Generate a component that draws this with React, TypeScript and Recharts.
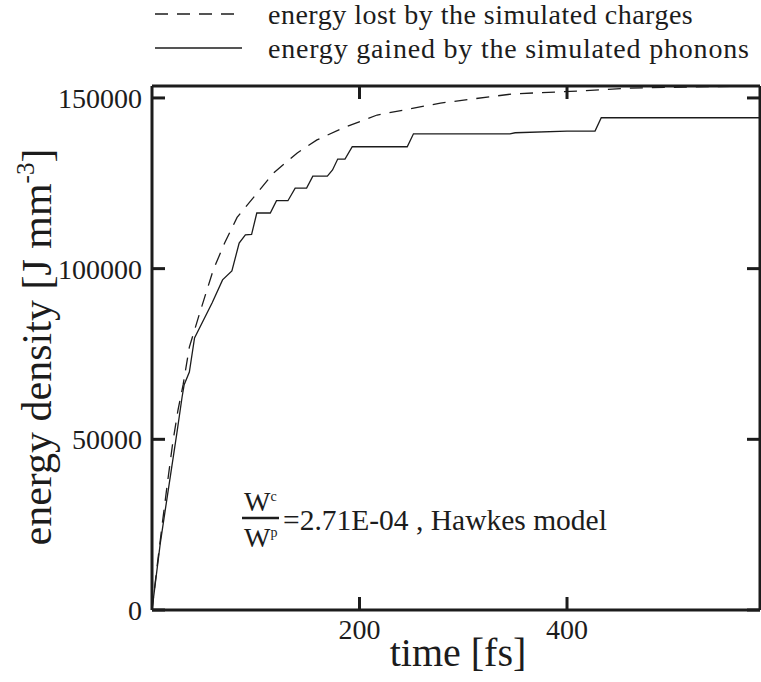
import React from 'react';
import { LineChart, Line, XAxis, YAxis } from 'recharts';

// energy lost by the simulated charges (dashed)
const chargeTime = [0, 5, 10, 15, 20, 25, 30, 36, 46, 59, 70, 82, 101, 117, 140, 159, 184, 217, 278, 348, 410, 461, 515, 586];
const chargeEnergy = [0, 13000, 25500, 37500, 49000, 58500, 66000, 77000, 87000, 99600, 107500, 115000, 122000, 128000, 133900, 137700, 141200, 145000, 148500, 151200, 152000, 152900, 153200, 153500];

// energy gained by the simulated phonons (solid)
const phononTime = [0, 8, 14.5, 24, 29, 31, 36, 41, 58, 68, 77, 84, 90, 96, 101, 114, 120, 131, 138, 149, 155, 169, 174, 179, 186, 193, 246, 252, 345, 350, 400, 427, 433, 586];
const phononEnergy = [0, 19600, 32800, 51900, 62400, 66000, 69700, 79700, 90000, 96700, 99300, 107500, 109900, 110000, 116300, 116300, 119900, 119900, 123600, 123600, 127100, 127100, 128900, 132100, 132100, 135700, 135700, 139500, 139500, 139800, 140300, 140300, 144200, 144200];

const xMinorTicks = [0, 50, 100, 150, 200, 250, 300, 350, 400, 450, 500, 550];
const yMinorTicks = [0, 10000, 20000, 30000, 40000, 50000, 60000, 70000, 80000, 90000, 100000, 110000, 120000, 130000, 140000, 150000];
const xLabels = [200, 400];
const yLabels = [0, 50000, 100000, 150000];

const X_DOMAIN = [0, 586];
const Y_DOMAIN = [0, 153500];

const SERIF = '"Liberation Serif", "Times New Roman", serif';
const INK = '#1c1c1c';

const charges = chargeTime.map((t, i) => ({ t, e: chargeEnergy[i] }));
const phonons = phononTime.map((t, i) => ({ t, e: phononEnergy[i] }));

const BottomLabel = (props: any) => {
  const { x, y, payload } = props;
  return (
    <text x={x} y={y + 29} textAnchor="middle" fontSize={28} fontFamily={SERIF} fill={INK}>
      {payload.value}
    </text>
  );
};

const LeftLabel = (props: any) => {
  const { x, y, payload } = props;
  return (
    <text x={x - 10} y={y + 10} textAnchor="end" fontSize={28} fontFamily={SERIF} fill={INK}>
      {payload.value}
    </text>
  );
};

const NoLabel = () => <g />;

const frame = { stroke: INK, strokeWidth: 3 };
const majorTick = { stroke: INK, strokeWidth: 3 };
const minorTick = { stroke: INK, strokeWidth: 1.2 };

const Overlay = () => (
  <svg width={761} height={682} style={{ position: 'absolute', left: 0, top: 0, pointerEvents: 'none' }}>
    <g fontFamily={SERIF} fill={INK}>
      {/* legend */}
      <line x1={155} x2={242} y1={14} y2={14} stroke={INK} strokeWidth={1.3} strokeDasharray="13 9" />
      <text x={268} y={24} fontSize={28} letterSpacing={0.5}>energy lost by the simulated charges</text>
      <line x1={155} x2={242} y1={48} y2={48} stroke={INK} strokeWidth={1.3} />
      <text x={268} y={58} fontSize={28} letterSpacing={0.8}>energy gained by the simulated phonons</text>

      {/* axis titles */}
      <text transform="translate(51,347) rotate(-90)" textAnchor="middle" fontSize={42}>
        energy density [J mm
        <tspan dy={-17} fontSize={25}>-3</tspan>
        <tspan dy={17}>]</tspan>
      </text>
      <text x={458} y={666} textAnchor="middle" fontSize={40}>time [fs]</text>

      {/* annotation */}
      <text x={244} y={511} fontSize={28}>
        W<tspan dy={-10} fontSize={14}>c</tspan>
      </text>
      <line x1={242} x2={279} y1={518} y2={518} stroke={INK} strokeWidth={2.5} />
      <text x={244} y={547} fontSize={28}>
        W<tspan dy={-10} fontSize={14}>p</tspan>
      </text>
      <text x={283} y={530} fontSize={29.5}>=2.71E-04 , Hawkes model</text>
    </g>
  </svg>
);

export default function App() {
  return (
    <div style={{ position: 'absolute', left: 0, top: 0, width: 761, height: 682, background: '#fff' }}>
      <LineChart width={761} height={682} margin={{ top: 85, right: 0, bottom: 71, left: 151 }}>
        {/* bottom: frame, major ticks with labels, then minor ticks */}
        <XAxis xAxisId="bottom" dataKey="t" type="number" domain={X_DOMAIN} ticks={xLabels} allowDataOverflow
          orientation="bottom" height={1} tickSize={-13} tickMargin={13} stroke={INK}
          axisLine={frame} tickLine={majorTick} tick={<BottomLabel />} interval={0} />
        <XAxis xAxisId="bottomMinor" dataKey="t" type="number" domain={X_DOMAIN} ticks={xMinorTicks} allowDataOverflow
          orientation="bottom" height={0} tickSize={-8} axisLine={false} tickLine={minorTick} tick={<NoLabel />} interval={0} />
        {/* top */}
        <XAxis xAxisId="top" dataKey="t" type="number" domain={X_DOMAIN} ticks={xLabels} allowDataOverflow
          orientation="top" height={1} tickSize={-13} stroke={INK}
          axisLine={frame} tickLine={majorTick} tick={<NoLabel />} interval={0} />
        <XAxis xAxisId="topMinor" dataKey="t" type="number" domain={X_DOMAIN} ticks={xMinorTicks} allowDataOverflow
          orientation="top" height={0} tickSize={-8} axisLine={false} tickLine={minorTick} tick={<NoLabel />} interval={0} />
        {/* left */}
        <YAxis yAxisId="left" type="number" domain={Y_DOMAIN} ticks={yLabels} allowDataOverflow
          orientation="left" width={1} tickSize={-13} tickMargin={13} stroke={INK}
          axisLine={frame} tickLine={majorTick} tick={<LeftLabel />} interval={0} />
        <YAxis yAxisId="leftMinor" type="number" domain={Y_DOMAIN} ticks={yMinorTicks} allowDataOverflow
          orientation="left" width={0} tickSize={-8} axisLine={false} tickLine={minorTick} tick={<NoLabel />} interval={0} />
        {/* right */}
        <YAxis yAxisId="right" type="number" domain={Y_DOMAIN} ticks={yLabels} allowDataOverflow
          orientation="right" width={1} tickSize={-13} stroke={INK}
          axisLine={frame} tickLine={majorTick} tick={<NoLabel />} interval={0} />
        <YAxis yAxisId="rightMinor" type="number" domain={Y_DOMAIN} ticks={yMinorTicks} allowDataOverflow
          orientation="right" width={0} tickSize={-8} axisLine={false} tickLine={minorTick} tick={<NoLabel />} interval={0} />

        <Line xAxisId="bottom" yAxisId="left" data={charges} dataKey="e" type="linear" stroke={INK}
          strokeWidth={1.3} strokeDasharray="13 9" dot={false} isAnimationActive={false} />
        <Line xAxisId="bottom" yAxisId="left" data={phonons} dataKey="e" type="linear" stroke={INK}
          strokeWidth={1.3} dot={false} isAnimationActive={false} />
      </LineChart>
      <Overlay />
    </div>
  );
}
